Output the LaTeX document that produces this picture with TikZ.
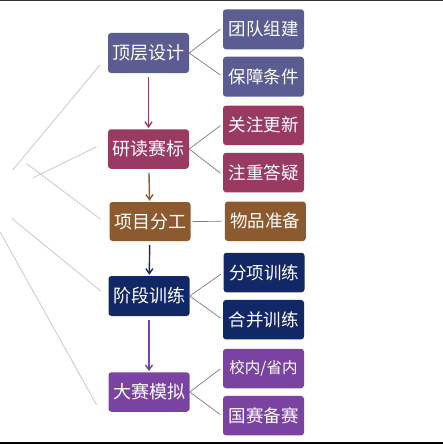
\documentclass[tikz,border=0pt]{standalone}
\usepackage{fontspec}
\newfontfamily\cjk{Noto Sans CJK SC}
\usetikzlibrary{arrows.meta}
\definecolor{cA}{HTML}{5B5C92}
\definecolor{cB}{HTML}{993A62}
\definecolor{cC}{HTML}{8C5A2E}
\definecolor{cD}{HTML}{122866}
\definecolor{cE}{HTML}{7A43A2}
\definecolor{fan}{HTML}{CFC8C4}
\definecolor{link}{HTML}{85768A}
\definecolor{baseline}{HTML}{A9C5DA}
\begin{document}
\begin{tikzpicture}[x=1pt,y=-1pt,
  box/.style={rounded corners=3pt, minimum width=81pt, minimum height=40pt, inner sep=0pt, text=white, font=\cjk\fontsize{18}{20}\selectfont},
  kid/.style={box, font=\cjk\fontsize{17.5}{20}\selectfont},
  flow/.style={line width=1.4pt, -{Straight Barb[length=5pt,width=7pt]}, shorten >=1pt, shorten <=4pt},
  tie/.style={draw=link, line width=0.7pt, shorten >=3pt},
  fanline/.style={draw=fan, line width=0.8pt}]
\useasboundingbox (0,0) rectangle (443,444);
\fill[white] (0,0) rectangle (443,444);
\fill[black!80] (0,0) rectangle (443,1.5);
\fill[baseline] (0,442.3) rectangle (443,444);
% fan lines
\draw[fanline] (100,65) -- (12.7,170);
\draw[fanline] (96.7,146.7) -- (33.3,177.7);
\draw[fanline] (26.7,163.7) -- (100.7,219.3);
\draw[fanline] (11.7,218.3) -- (100.7,291);
\draw[fanline] (0,232) -- (96.7,405);
% main boxes
\node[box, fill=cA] (p1) at (148.5,53) {顶层设计};
\node[box, fill=cB, minimum height=39.5pt] (p2) at (148.5,149) {研读赛标};
\node[box, fill=cC, minimum height=39pt] (p3) at (150,221.5) {项目分工};
\node[box, fill=cD] (p4) at (149,296) {阶段训练};
\node[box, fill=cE, minimum height=39.5pt] (p5) at (149,392) {大赛模拟};
% children
\node[kid, fill=cA] (c1) at (263.5,29.3) {团队组建};
\node[kid, fill=cA] (c2) at (263.5,76.7) {保障条件};
\node[kid, fill=cB, minimum height=39.5pt] (c3) at (263.5,125.3) {关注更新};
\node[kid, fill=cB, minimum height=39.5pt] (c4) at (263.5,172.5) {注重答疑};
\node[kid, fill=cC, minimum height=39.5pt] (c5) at (265.3,221.3) {物品准备};
\node[kid, fill=cD, minimum height=39.5pt] (c6) at (264,272.5) {分项训练};
\node[kid, fill=cD, minimum height=39.5pt] (c7) at (263.5,319.7) {合并训练};
\node[kid, fill=cE, minimum height=39.5pt, font=\cjk\fontsize{15.5}{18}\selectfont] (c8) at (263.5,368.5) {校内/省内};
\node[kid, fill=cE, minimum height=39.5pt] (c9) at (263.5,415.7) {国赛备赛};
% flow arrows
\draw[flow, draw=cB] (p1) -- (p2);
\draw[flow, draw=cC] (p2) -- (p3);
\draw[flow, draw=cD] (p3) -- (p4);
\draw[flow, draw=cE] (p4) -- (p5);
% ties
\draw[tie] (p1.east) -- ([yshift=2pt]c1.west);
\draw[tie] (p1.east) -- (c2.west);
\draw[tie] (p2.east) -- ([yshift=1.5pt]c3.west);
\draw[tie] (p2.east) -- ([yshift=-2.5pt]c4.west);
\draw[tie, shorten <=2pt] (p3.east) -- (c5.west);
\draw[tie] (p4.east) -- (c6.west);
\draw[tie] (p4.east) -- (c7.west);
\draw[tie] (p5.east) -- ([yshift=1.5pt]c8.west);
\draw[tie] (p5.east) -- ([yshift=-0.7pt]c9.west);
\end{tikzpicture}
\end{document}
